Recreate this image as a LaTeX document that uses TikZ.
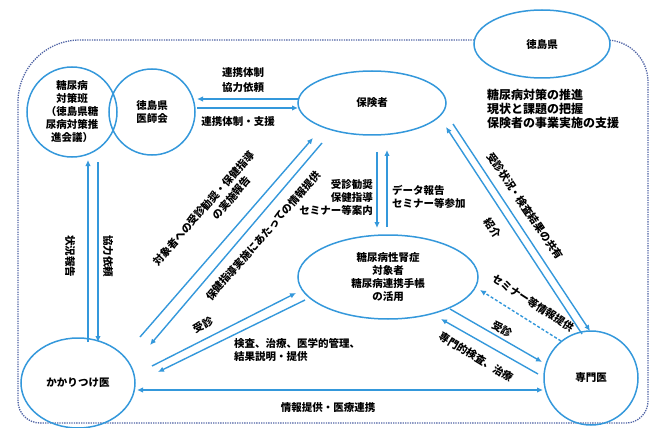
\documentclass[tikz,border=0pt]{standalone}
\usepackage{fontspec}
\setmainfont{Noto Sans CJK JP}
\usetikzlibrary{arrows.meta,calc,shapes.geometric}
\definecolor{lblue}{RGB}{52,152,219}
\definecolor{dotc}{RGB}{80,100,165}
\begin{document}
\begin{tikzpicture}[x=1pt,y=-1pt,
  font=\fontsize{10.5}{13}\selectfont\bfseries,
  ent/.style={draw=lblue,line width=1.5pt,inner sep=0pt,align=center},
  arr/.style={draw=lblue,line width=1.4pt,-{Latex[length=6pt,width=5.5pt]}},
  lbl/.style={inner sep=0pt,align=center},
  border/.style={draw=dotc,line width=1.3pt,dash pattern=on 1.3pt off 1.1pt}]
\useasboundingbox (0,0) rectangle (665,428);
% dotted frame
\draw[border, rounded corners=62pt] (18,300) |- (420,40);
\draw[border, rounded corners=42pt] (420,40) -| (648,300);
\draw[border, rounded corners=22pt] (648,300) |- (300,423) -| (18,300);
% nodes
\node[ent,circle,minimum size=90pt] (taisaku) at (72,112) {糖尿病\\対策班\\（徳島県糖\\尿病対策推\\進会議）};
\node[ent,circle,minimum size=86pt] (ishikai) at (152,112) {徳島県\\医師会};
\node[ent,ellipse,minimum width=148pt,minimum height=64pt] (hoken) at (372,103) {保険者};
\node[ent,ellipse,fill=white,minimum width=136pt,minimum height=68pt] (pref) at (542,44) {徳島県};
\node[ent,ellipse,minimum width=180pt,minimum height=84pt] (taisho) at (388,277) {糖尿病性腎症\\対象者\\糖尿病連携手帳\\の活用};
\node[ent,ellipse,minimum width=114pt,minimum height=90pt] (kakari) at (78,383) {かかりつけ医};
\node[ent,circle,minimum size=94pt] (senmon) at (591,378) {専門医};
% connectors
\draw[arr] ($(hoken)+(-74,-4)$) -- ($(ishikai)+(45,-13)$);
\draw[arr] ($(ishikai)+(45,-4)$) -- ($(hoken)+(-74,5)$);
\draw[arr] ($(kakari)+(10,-41)$) -- ($(taisaku)+(16,48)$);
\draw[arr] ($(taisaku)+(26,50)$) -- ($(kakari)+(20,-41)$);
\draw[arr] ($(kakari)+(62,-46)$) -- ($(hoken)+(-59,35)$);
\draw[arr] ($(hoken)+(-50,40)$) -- ($(kakari)+(72,-38)$);
\draw[arr] ($(hoken)+(5,49)$) -- ($(taisho)+(-11,-49)$);
\draw[arr] ($(taisho)+(-1,-50)$) -- ($(hoken)+(15,47)$);
\draw[arr] ($(senmon)+(-9,-44)$) -- ($(hoken)+(74,24)$);
\draw[arr] ($(hoken)+(81,21)$) -- ($(senmon)+(-1,-47)$);
\draw[arr,dash pattern=on 3pt off 2pt] ($(senmon)+(-30,-37)$) -- ($(taisho)+(92,13)$);
\draw[arr] ($(taisho)+(62,32)$) -- ($(senmon)+(-49,-16)$);
\draw[arr] ($(senmon)+(-53,-4)$) -- ($(taisho)+(53,42)$);
\draw[arr] ($(kakari)+(74,-17)$) -- ($(taisho)+(-92,16)$);
\draw[arr] ($(taisho)+(-83,23)$) -- ($(kakari)+(80,-11)$);
\draw[arr,{Latex[length=6pt,width=5.5pt]}-{Latex[length=6pt,width=5.5pt]}] ($(kakari)+(59,7)$) -- ($(senmon)+(-48,12)$);
% labels
\node[lbl] (l1) at (243,80) {連携体制\\[2pt]協力依頼};
\node[lbl] (l2) at (238,122) {連携体制・支援};
\node[lbl,rotate=-90] (l3) at (70,256) {状況報告};
\node[lbl,rotate=-90] (l4) at (108,256) {協力依頼};
\node[lbl,align=right,anchor=east] (l5) at (373,197) {受診勧奨\\保健指導\\セミナー等案内};
\node[lbl,align=left,anchor=west] (l6) at (392,197) {データ報告\\セミナー等参加};
\node[lbl,align=left,anchor=west,font=\fontsize{12}{14}\selectfont\bfseries] (l7) at (487,109) {糖尿病対策の推進\\現状と課題の把握\\保険者の事業実施の支援};
\node[lbl,rotate=49,align=left,font=\fontsize{10.5}{14}\selectfont\bfseries] (l8) at (209,213) {対象者への受診勧奨・保健指導\\\hspace*{7em}の実施報告};
\node[lbl,rotate=49] (l10) at (263,236) {保健指導実施にあたっての情報提供};
\node[lbl,rotate=-56] (l11) at (493,228) {紹介};
\node[lbl,rotate=-56] (l12) at (525,206) {受診状況・検査結果の共有};
\node[lbl,rotate=-33] (l13) at (533,303) {セミナー等情報提供};
\node[lbl,rotate=-31] (l14) at (502,329) {受診};
\node[lbl,rotate=-31] (l15) at (476,357) {専門的検査、治療};
\node[lbl,rotate=27] (l16) at (203,325) {受診};
\node[lbl,align=left,anchor=north west] (l17) at (234,338) {検査、治療、医学的管理、\\結果説明・提供};
\node[lbl] (l18) at (328,408) {情報提供・医療連携};
\end{tikzpicture}
\end{document}
